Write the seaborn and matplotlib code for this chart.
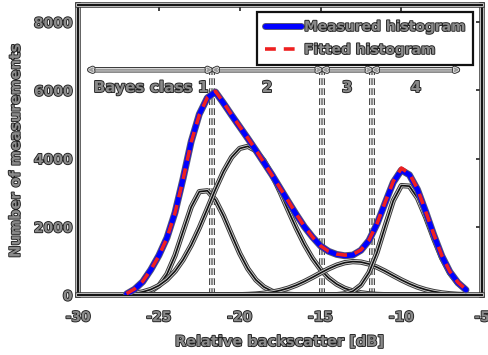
import numpy as np
import pandas as pd
import matplotlib
matplotlib.use("Agg")
import matplotlib.pyplot as plt
import matplotlib.patheffects as pe
import seaborn as sns

# Relative backscatter bins (dB), 0.5 dB apart from -27 to -6
backscatter_db = np.linspace(-27.0, -6.0, 43)

measured_hist = [30, 170, 390, 740, 1160, 1680, 2420, 3420, 4500, 5300, 5780, 5950,
                 5620, 5270, 4930, 4590, 4240, 3880, 3520, 3130, 2740, 2360, 2000,
                 1700, 1440, 1280, 1190, 1150, 1170, 1310, 1600, 2090, 2700, 3300,
                 3660, 3520, 3090, 2450, 1770, 1150, 680, 360, 150]

fitted_hist = [40, 180, 400, 740, 1150, 1670, 2410, 3400, 4480, 5280, 5790, 5970,
               5640, 5280, 4940, 4600, 4250, 3880, 3510, 3130, 2760, 2370, 2010,
               1700, 1440, 1280, 1200, 1170, 1190, 1320, 1610, 2100, 2720, 3330,
               3720, 3560, 3110, 2460, 1790, 1160, 690, 370, 160]

class1_fit = [0, 10, 34, 105, 275, 611, 1160, 1874, 2581, 3029, 3055, 2787, 2319,
              1761, 1219, 771, 444, 234, 112, 49, 20, 7, 2,
              0, 0, 0, 0, 0, 0, 0, 0, 0, 0, 0, 0, 0, 0, 0, 0, 0, 0, 0, 0]

class2_fit = [25, 48, 91, 162, 277, 451, 699, 1036, 1462, 1969, 2530, 3100, 3623,
              4039, 4295, 4357, 4231, 3942, 3522, 3019, 2482, 1958, 1481, 1074,
              748, 499, 320, 196, 116, 65, 35, 18, 9, 4, 2,
              0, 0, 0, 0, 0, 0, 0, 0]

class3_fit = [0, 0, 0, 0, 0, 0, 0, 0, 0, 0, 0, 0,
              2, 4, 8, 16, 29, 51, 84, 133, 200, 288, 395, 517, 646, 769, 874,
              947, 979, 965, 908, 814, 697, 568, 442, 329, 232, 157, 101, 62, 36,
              20, 11]

class4_fit = [0] * 25 + [2, 10, 35, 110, 292, 657, 1251, 2019, 2764, 3207, 3190,
                         2844, 2286, 1655, 1080, 635, 336, 160]

# Bayes decision boundaries and class regions
region_edges = [-29.4, -21.7, -14.9, -11.8, -6.4]
class_labels = ["Bayes class 1", "2", "3", "4"]

x_ticks = [-30, -25, -20, -15, -10, -5]
y_ticks = [0, 2000, 4000, 6000, 8000]

sns.set_theme(style="white")
plt.rcParams["font.family"] = ["DejaVu Sans"]
plt.rcParams["axes.unicode_minus"] = False

fig = plt.figure(figsize=(4.88, 3.55), dpi=100)
ax = fig.add_axes([0.160, 0.169, 0.828, 0.817])


def halo(lw, dark="#3a3a3a", light="#d8d8d8"):
    return [pe.Stroke(linewidth=lw + 2.6, foreground=dark),
            pe.Stroke(linewidth=lw + 1.2, foreground=light),
            pe.Normal()]


text_fx = [pe.Stroke(linewidth=1.3, foreground="#202020"), pe.Normal()]
text_color = "#8a8a8a"

# decision boundaries
arrow_y = 6600
ax.vlines(region_edges[1:4], 0, arrow_y, colors="#8c8c8c", linestyles=(0, (3, 1.5)),
          linewidth=1.6, zorder=1.5, path_effects=halo(1.6, light="#f0f0f0"))
for x0, x1, lab in zip(region_edges[:-1], region_edges[1:], class_labels):
    ax.annotate("", xy=(x1, arrow_y), xytext=(x0, arrow_y),
                arrowprops=dict(arrowstyle="<->", color="#9a9a9a", lw=1.4,
                                shrinkA=0, shrinkB=0, mutation_scale=5,
                                path_effects=halo(1.4, light="#e6e6e6")))
    ax.text((x0 + x1) / 2 + (0.05 if lab.startswith("Bayes") else 0), 6080, lab,
            ha="center", va="center", fontsize=11,
            fontweight="bold", color=text_color, path_effects=text_fx)

# fitted class components
for comp in (class1_fit, class2_fit, class3_fit, class4_fit):
    sns.lineplot(x=backscatter_db, y=comp, ax=ax, color="#111111", linewidth=1.2,
                 zorder=2, path_effects=halo(1.2))

sns.lineplot(x=backscatter_db, y=measured_hist, ax=ax, color="#0000ff",
             linewidth=3.6, zorder=3, label="Measured histogram",
             path_effects=[pe.Stroke(linewidth=5.0, foreground="#555577"), pe.Normal()])
sns.lineplot(x=backscatter_db, y=fitted_hist, ax=ax, color="#ee2020",
             linewidth=2.6, zorder=4, dashes=(3, 2.2), label="Fitted histogram")

ax.set_xlim(-30, -5)
ax.set_ylim(0, 8500)
ax.set_xticks(x_ticks)
ax.set_yticks(y_ticks)
ax.set_xticklabels([str(v) for v in x_ticks])
ax.set_yticklabels([str(v) for v in y_ticks])
ax.tick_params(direction="in", top=True, right=True, length=4, width=1.2,
               colors="#222222", labelsize=10)
ax.tick_params(axis="x", pad=11)
ax.tick_params(axis="y", pad=4)
for lab in ax.get_xticklabels() + ax.get_yticklabels():
    lab.set_color(text_color)
    lab.set_fontweight("bold")
    lab.set_path_effects(text_fx)

for sp in ax.spines.values():
    sp.set_visible(True)
    sp.set_color("#111111")
    sp.set_linewidth(1.4)
    sp.set_path_effects(halo(1.4))

ax.set_xlabel("Relative backscatter [dB]", fontsize=10.5, fontweight="bold",
              color=text_color, path_effects=text_fx, labelpad=7)
ax.set_ylabel("Number of measurements", fontsize=10.5, fontweight="bold",
              color=text_color, path_effects=text_fx, labelpad=8)

leg = ax.legend(loc="upper right", bbox_to_anchor=(0.978, 0.975), fontsize=10,
                handlelength=2.6, handletextpad=0.2, borderpad=0.55,
                labelspacing=0.65, fancybox=False, framealpha=1, borderaxespad=0)
leg.get_frame().set_edgecolor("#111111")
leg.get_frame().set_linewidth(1.6)
for t in leg.get_texts():
    t.set_color(text_color)
    t.set_fontweight("bold")
    t.set_path_effects(text_fx)

fig.savefig("out.png", dpi=100)
